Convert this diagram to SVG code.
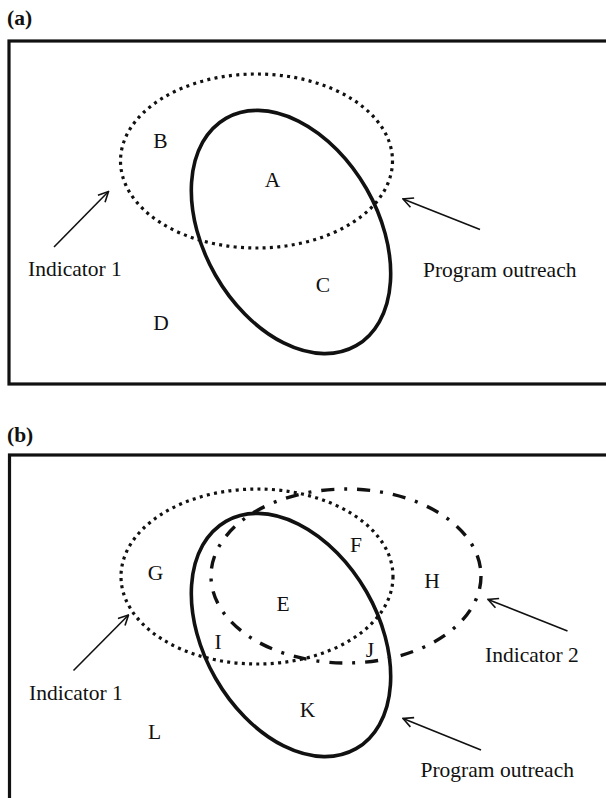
<svg xmlns="http://www.w3.org/2000/svg" width="606" height="798" viewBox="0 0 606 798">
<style>
  .frame { fill: none; stroke: #111; stroke-width: 3.2; }
  .dotted { fill: none; stroke: #111; stroke-width: 3.2; stroke-dasharray: 3 4.3; }
  .solid { fill: none; stroke: #111; stroke-width: 3.6; }
  .dashdot { fill: none; stroke: #111; stroke-width: 3.4; stroke-dasharray: 13 10 3 10; }
  .lbl { font-family: "Liberation Serif", "Times New Roman", serif; font-size: 21.5px; fill: #111; }
  .mid { text-anchor: middle; }
  .title { font-family: "Liberation Serif", "Times New Roman", serif; font-size: 21.5px; font-weight: bold; fill: #111; }
  .arrow { fill: none; stroke: #111; stroke-width: 1.6; marker-end: url(#head); }
</style>
<defs>
  <marker id="head" viewBox="0 0 12 12" refX="11" refY="6" markerWidth="12" markerHeight="12" markerUnits="userSpaceOnUse" orient="auto">
    <path d="M1,1 L11,6 L1,11" fill="none" stroke="#111" stroke-width="1.6"/>
  </marker>
</defs>
<rect width="606" height="798" fill="#fff"/>

<g id="panel-a">
  <text class="title" x="7" y="24.5">(a)</text>
  <rect class="frame" x="9" y="41" width="620" height="343"/>
  <g id="indicator1-a"><ellipse class="dotted" cx="256.5" cy="161" rx="136" ry="87"/></g>
  <g id="outreach-a"><ellipse class="solid" cx="0" cy="0" rx="131" ry="87" transform="translate(291 232) rotate(60.2)"/></g>
  <g id="regions-a">
    <text class="lbl mid" x="160.5" y="148">B</text>
    <text class="lbl mid" x="272.5" y="187">A</text>
    <text class="lbl mid" x="323" y="291.5">C</text>
    <text class="lbl mid" x="161" y="330">D</text>
  </g>
  <g id="labels-a">
    <text class="lbl" x="28" y="276">Indicator 1</text>
    <text class="lbl" x="423" y="277">Program outreach</text>
  </g>
  <g id="connectors-a">
    <line class="arrow" x1="54" y1="247" x2="108.5" y2="191.5"/>
    <line class="arrow" x1="480" y1="229.5" x2="403" y2="199"/>
  </g>
</g>

<g id="panel-b">
  <text class="title" x="7" y="442">(b)</text>
  <rect class="frame" x="9.5" y="455" width="620" height="360"/>
  <g id="indicator1-b"><ellipse class="dotted" cx="257" cy="576.5" rx="136" ry="87.5"/></g>
  <g id="indicator2-b"><ellipse class="dashdot" cx="346" cy="576" rx="135" ry="87"/></g>
  <g id="outreach-b"><ellipse class="solid" cx="0" cy="0" rx="131" ry="87" transform="translate(291 635) rotate(60.2)"/></g>
  <g id="regions-b">
    <text class="lbl mid" x="155.5" y="580">G</text>
    <text class="lbl mid" x="356" y="551.5">F</text>
    <text class="lbl mid" x="432" y="588">H</text>
    <text class="lbl mid" x="283" y="611">E</text>
    <text class="lbl mid" x="218" y="649">I</text>
    <text class="lbl mid" x="370" y="656.5">J</text>
    <text class="lbl mid" x="307.5" y="716.5">K</text>
    <text class="lbl mid" x="154.5" y="739">L</text>
  </g>
  <g id="labels-b">
    <text class="lbl" x="29" y="700">Indicator 1</text>
    <text class="lbl" x="485" y="662">Indicator 2</text>
    <text class="lbl" x="420.5" y="777">Program outreach</text>
  </g>
  <g id="connectors-b">
    <line class="arrow" x1="73.5" y1="670.5" x2="128.5" y2="615"/>
    <line class="arrow" x1="567.5" y1="631" x2="488" y2="599.5"/>
    <line class="arrow" x1="481" y1="750" x2="403" y2="718.5"/>
  </g>
</g>
</svg>
